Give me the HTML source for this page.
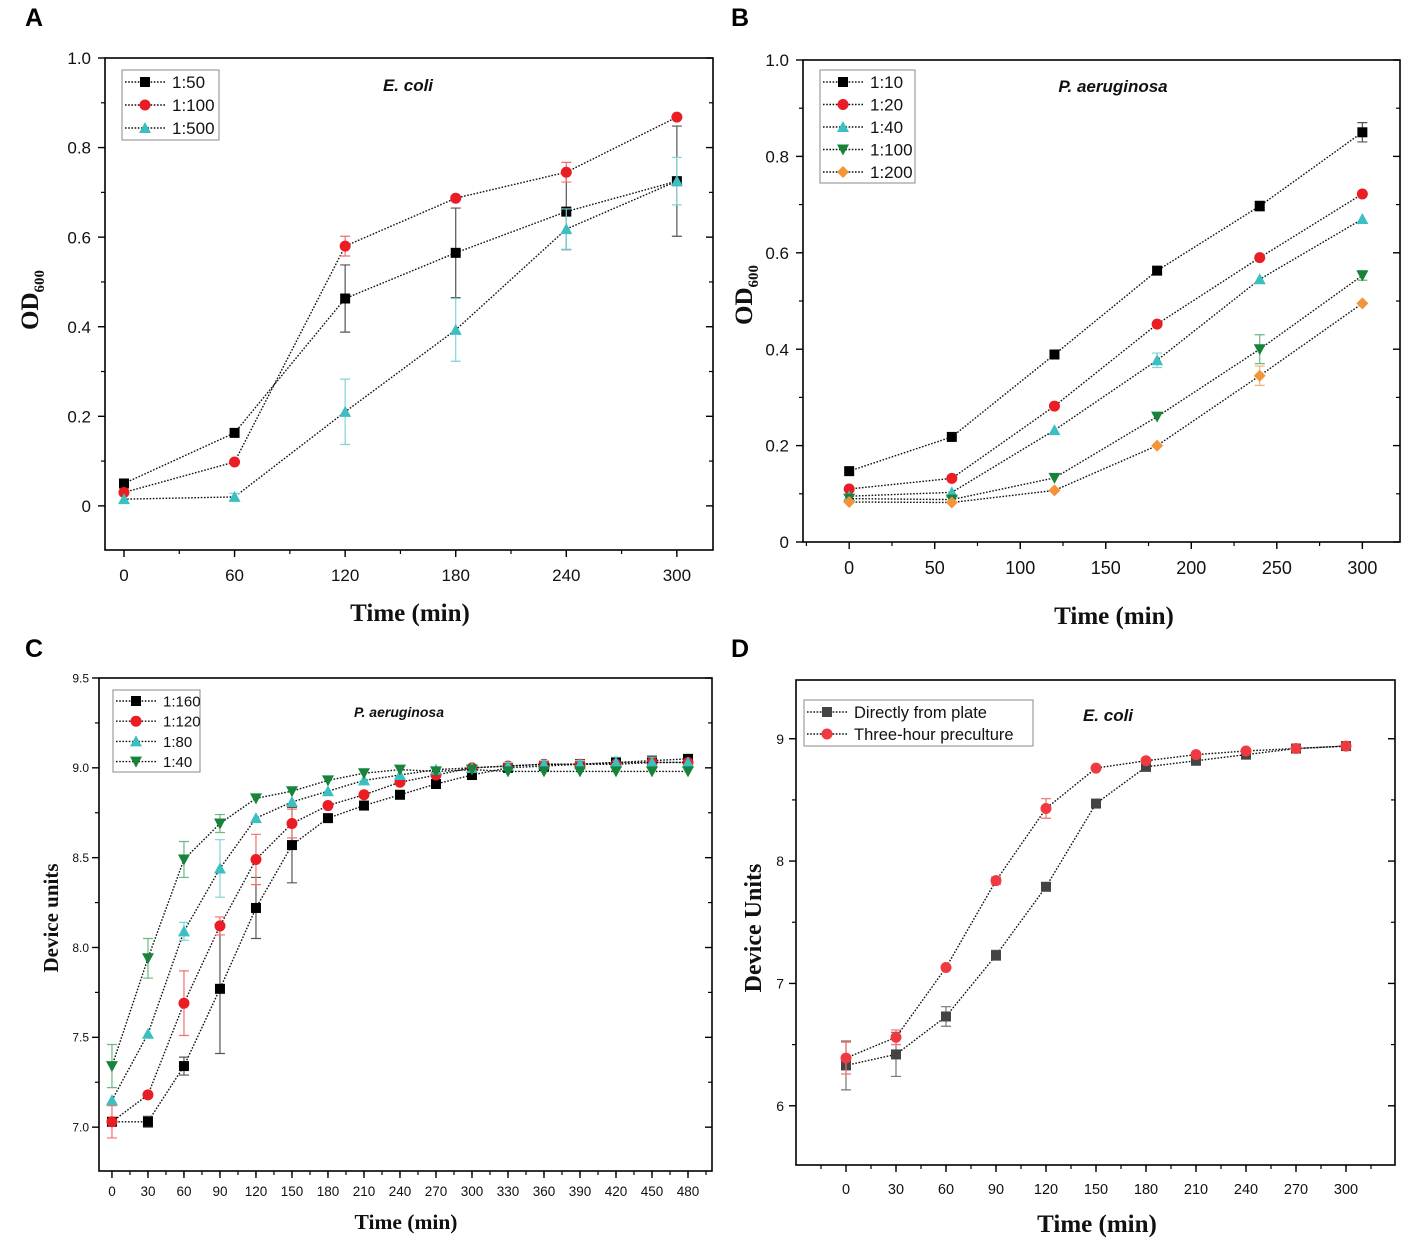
<!DOCTYPE html>
<html><head><meta charset="utf-8">
<style>
body{margin:0;background:#fff;}
svg{display:block;}
text{font-family:"Liberation Sans",Arial,sans-serif;}
.serif{font-family:"Liberation Serif","Times New Roman",serif;font-weight:bold;}
</style></head>
<body>
<svg id="fig" width="1417" height="1240" viewBox="0 0 1417 1240" xmlns="http://www.w3.org/2000/svg">
<rect width="1417" height="1240" fill="#fff"/>
</svg>
<script>
// ---------- Panel A data ----------
const aX = [0, 60, 120, 180, 240, 300];
const aNames = ["1:50", "1:100", "1:500"];
const a50 = [0.05, 0.163, 0.463, 0.565, 0.657, 0.725];
const a100 = [0.03, 0.098, 0.58, 0.687, 0.745, 0.868];
const a500 = [0.015, 0.02, 0.21, 0.393, 0.618, 0.725];
const a50Err = [0.005, 0.005, 0.075, 0.1, 0.085, 0.123];
const a100Err = [0.005, 0.005, 0.022, 0.005, 0.022, 0.005];
const a500Err = [0.005, 0.008, 0.073, 0.07, 0.045, 0.053];
const aXTicks = [0, 60, 120, 180, 240, 300];
const aYTicks = [0, 0.2, 0.4, 0.6, 0.8, 1.0];
const aYLabels = ["0", "0.2", "0.4", "0.6", "0.8", "1.0"];

// ---------- Panel B data ----------
const bX = [0, 60, 120, 180, 240, 300];
const bNames = ["1:10", "1:20", "1:40", "1:100", "1:200"];
const b10 = [0.147, 0.218, 0.389, 0.563, 0.697, 0.85];
const b20 = [0.11, 0.132, 0.282, 0.452, 0.59, 0.722];
const b40 = [0.095, 0.103, 0.232, 0.377, 0.545, 0.67];
const b100 = [0.09, 0.088, 0.133, 0.26, 0.4, 0.553];
const b200 = [0.083, 0.082, 0.107, 0.2, 0.345, 0.495];
const b10Err = [0.004, 0.004, 0.004, 0.004, 0.01, 0.02];
const b20Err = [0.004, 0.004, 0.004, 0.004, 0.004, 0.004];
const b40Err = [0.004, 0.004, 0.004, 0.015, 0.004, 0.004];
const b100Err = [0.004, 0.004, 0.004, 0.004, 0.03, 0.01];
const b200Err = [0.004, 0.004, 0.004, 0.004, 0.02, 0.004];
const bXTicks = [0, 50, 100, 150, 200, 250, 300];
const bYTicks = [0, 0.2, 0.4, 0.6, 0.8, 1.0];
const bYLabels = ["0", "0.2", "0.4", "0.6", "0.8", "1.0"];

// ---------- Panel C data ----------
const cX = [0, 30, 60, 90, 120, 150, 180, 210, 240, 270, 300, 330, 360, 390, 420, 450, 480];
const cNames = ["1:160", "1:120", "1:80", "1:40"];
const c160 = [7.03, 7.03, 7.34, 7.77, 8.22, 8.57, 8.72, 8.79, 8.85, 8.91, 8.96, 9.0, 9.01, 9.02, 9.03, 9.04, 9.05];
const c120 = [7.03, 7.18, 7.69, 8.12, 8.49, 8.69, 8.79, 8.85, 8.92, 8.96, 9.0, 9.01, 9.02, 9.02, 9.02, 9.03, 9.03];
const c80 = [7.15, 7.52, 8.09, 8.44, 8.72, 8.81, 8.87, 8.93, 8.96, 8.99, 9.0, 9.01, 9.02, 9.02, 9.03, 9.03, 9.03];
const c40 = [7.34, 7.94, 8.49, 8.69, 8.83, 8.87, 8.93, 8.97, 8.99, 8.98, 8.99, 8.98, 8.98, 8.98, 8.98, 8.98, 8.98];
const c160Err = [0.01, 0.03, 0.05, 0.36, 0.17, 0.21, 0.01, 0.01, 0.01, 0.01, 0.01, 0.01, 0.01, 0.01, 0.02, 0.02, 0.01];
const c120Err = [0.09, 0.01, 0.18, 0.05, 0.14, 0.08, 0.01, 0.01, 0.01, 0.01, 0.01, 0.01, 0.01, 0.01, 0.01, 0.01, 0.01];
const c80Err = [0.01, 0.01, 0.05, 0.16, 0.01, 0.01, 0.01, 0.01, 0.01, 0.01, 0.01, 0.02, 0.02, 0.02, 0.03, 0.03, 0.01];
const c40Err = [0.12, 0.11, 0.1, 0.05, 0.01, 0.01, 0.01, 0.01, 0.01, 0.01, 0.01, 0.01, 0.01, 0.01, 0.01, 0.01, 0.01];
const cXTicks = [0, 30, 60, 90, 120, 150, 180, 210, 240, 270, 300, 330, 360, 390, 420, 450, 480];
const cYTicks = [7.0, 7.5, 8.0, 8.5, 9.0, 9.5];
const cYLabels = ["7.0", "7.5", "8.0", "8.5", "9.0", "9.5"];

// ---------- Panel D data ----------
const dX = [0, 30, 60, 90, 120, 150, 180, 210, 240, 270, 300];
const dNames = ["Directly from plate", "Three-hour preculture"];
const dPlate = [6.33, 6.42, 6.73, 7.23, 7.79, 8.47, 8.77, 8.82, 8.87, 8.92, 8.94];
const dPre = [6.39, 6.56, 7.13, 7.84, 8.43, 8.76, 8.82, 8.87, 8.9, 8.92, 8.94];
const dPlateErr = [0.2, 0.18, 0.08, 0.04, 0.01, 0.01, 0.01, 0.01, 0.01, 0.01, 0.01];
const dPreErr = [0.13, 0.06, 0.02, 0.03, 0.08, 0.01, 0.01, 0.01, 0.01, 0.01, 0.01];
const dXTicks = [0, 30, 60, 90, 120, 150, 180, 210, 240, 270, 300];
const dYTicks = [6, 7, 8, 9];
const dYLabels = ["6", "7", "8", "9"];

const NS = "http://www.w3.org/2000/svg";
const fig = document.getElementById("fig");
function mk(tag, attrs, parent) {
  const e = document.createElementNS(NS, tag);
  for (const k in attrs) e.setAttribute(k, attrs[k]);
  (parent || fig).appendChild(e);
  return e;
}

function marker(g, shape, cx, cy, s, color) {
  let e;
  const h = s / 2;
  if (shape === "square") e = mk("rect", {x: cx - h, y: cy - h, width: s, height: s, fill: color}, g);
  else if (shape === "circle") e = mk("circle", {cx: cx, cy: cy, r: h + 0.5, fill: color}, g);
  else if (shape === "up") e = mk("polygon", {points: `${cx},${cy - h - 1} ${cx - h - 1},${cy + h} ${cx + h + 1},${cy + h}`, fill: color}, g);
  else if (shape === "down") e = mk("polygon", {points: `${cx},${cy + h + 1} ${cx - h - 1},${cy - h} ${cx + h + 1},${cy - h}`, fill: color}, g);
  else e = mk("polygon", {points: `${cx},${cy - h - 1} ${cx + h + 1},${cy} ${cx},${cy + h + 1} ${cx - h - 1},${cy}`, fill: color}, g);
  return e;
}

function panel(cfg) {
  const g = mk("g", {});
  
  
  const sx = v => cfg.L + (v - cfg.xmin) / (cfg.xmax - cfg.xmin) * (cfg.R - cfg.L);
  const sy = v => cfg.B - (v - cfg.ymin) / (cfg.ymax - cfg.ymin) * (cfg.B - cfg.T);
  const frame = mk("rect", {x: cfg.L, y: cfg.T, width: cfg.R - cfg.L, height: cfg.B - cfg.T, fill: "none", stroke: "#000", "stroke-width": 1.6}, g);
  
  
  const xt = mk("g", {}, g);
  
  
  for (const v of cfg.xTicks) {
    mk("line", {x1: sx(v), x2: sx(v), y1: cfg.B, y2: cfg.B + 7, stroke: "#000", "stroke-width": 1.4}, xt);
    const t = mk("text", {x: sx(v), y: cfg.B + cfg.xLabOff, "font-size": cfg.tickFont, "text-anchor": "middle", fill: "#111"}, xt);
    t.textContent = String(v);
  }
  for (let v = cfg.xTicks[0] - cfg.xMinor; v > cfg.xmin; v -= cfg.xMinor)
    mk("line", {x1: sx(v), x2: sx(v), y1: cfg.B, y2: cfg.B + 4, stroke: "#000", "stroke-width": 1.2}, xt);
  for (let v = cfg.xTicks[0] + cfg.xMinor; v < cfg.xmax; v += cfg.xMinor)
    mk("line", {x1: sx(v), x2: sx(v), y1: cfg.B, y2: cfg.B + 4, stroke: "#000", "stroke-width": 1.2}, xt);
  const yt = mk("g", {}, g);
  
  
  cfg.yTicks.forEach((v, i) => {
    mk("line", {x1: cfg.L - 7, x2: cfg.L, y1: sy(v), y2: sy(v), stroke: "#000", "stroke-width": 1.4}, yt);
    mk("line", {x1: cfg.R - 7, x2: cfg.R, y1: sy(v), y2: sy(v), stroke: "#000", "stroke-width": 1.4}, yt);
    const t = mk("text", {x: cfg.L - cfg.yLabOff, y: sy(v) + cfg.yTickFont * 0.36, "font-size": cfg.yTickFont, "text-anchor": "end", fill: "#111"}, yt);
    t.textContent = cfg.yLabels[i];
  });
  for (let v = cfg.yTicks[0] + cfg.yMinor; v < cfg.ymax - 1e-9; v += cfg.yMinor) {
    if (cfg.yTicks.some(t => Math.abs(t - v) < 1e-6)) continue;
    mk("line", {x1: cfg.L - 4, x2: cfg.L, y1: sy(v), y2: sy(v), stroke: "#000", "stroke-width": 1.2}, yt);
    mk("line", {x1: cfg.R - 4, x2: cfg.R, y1: sy(v), y2: sy(v), stroke: "#000", "stroke-width": 1.2}, yt);
  }
  for (let v = cfg.yTicks[0] - cfg.yMinor; v > cfg.ymin; v -= cfg.yMinor) {
    mk("line", {x1: cfg.L - 4, x2: cfg.L, y1: sy(v), y2: sy(v), stroke: "#000", "stroke-width": 1.2}, yt);
    mk("line", {x1: cfg.R - 4, x2: cfg.R, y1: sy(v), y2: sy(v), stroke: "#000", "stroke-width": 1.2}, yt);
  }
  cfg.series.forEach((s, si) => {
    const sg = mk("g", {}, g);
    
    
    const pts = cfg.x.map((xv, i) => sx(xv) + "," + sy(s.y[i])).join(" ");
    const ln = mk("polyline", {points: pts, fill: "none", stroke: "#111", "stroke-width": 1.4, "stroke-dasharray": "1.6 1.6"}, sg);
    
    
    cfg.x.forEach((xv, i) => {
      const e = s.err[i];
      if (e > 0.006 * (cfg.ymax - cfg.ymin)) {
        const eb = mk("path", {d: `M${sx(xv)},${sy(s.y[i] - e)}V${sy(s.y[i] + e)}M${sx(xv) - 5},${sy(s.y[i] - e)}h10M${sx(xv) - 5},${sy(s.y[i] + e)}h10`, stroke: s.errColor, "stroke-width": 1.2, fill: "none"}, sg);
        
        
      }
    });
    cfg.x.forEach((xv, i) => {
      const m = marker(sg, s.shape, sx(xv), sy(s.y[i]), cfg.ms, s.color);
      
      
    });
  });
  const lg = mk("g", {}, g);
  
  
  mk("rect", {x: cfg.leg.x, y: cfg.leg.y, width: cfg.leg.w, height: cfg.leg.h, fill: "#fff", stroke: "#888", "stroke-width": 1}, lg);
  cfg.series.forEach((s, si) => {
    const yy = cfg.leg.y + cfg.leg.first + si * cfg.leg.step;
    const le = mk("g", {}, lg);
    
    
    mk("line", {x1: cfg.leg.x + 3, x2: cfg.leg.x + 43, y1: yy, y2: yy, stroke: "#111", "stroke-width": 1.4, "stroke-dasharray": "1.6 1.6"}, le);
    marker(le, s.shape, cfg.leg.x + 23, yy, cfg.ms, s.color);
    const t = mk("text", {x: cfg.leg.x + 50, y: yy + cfg.leg.font * 0.36, "font-size": cfg.leg.font, fill: "#111"}, le);
    t.textContent = s.label;
  });
  const tt = mk("text", {x: cfg.title.x, y: cfg.title.y, "font-size": cfg.title.size, "font-weight": "bold", "font-style": "italic", "text-anchor": "middle", fill: "#111"}, g);
  
  
  tt.textContent = cfg.title.text;
  const xtl = mk("text", {x: cfg.xTitle.x, y: cfg.xTitle.y, "font-size": cfg.xTitle.size, "text-anchor": "middle", class: "serif", fill: "#111"}, g);
  
  
  xtl.textContent = "Time (min)";
  const ytl = mk("text", {x: 0, y: 0, "font-size": cfg.yTitle.size, "text-anchor": "middle", class: "serif", fill: "#111", transform: `translate(${cfg.yTitle.x},${cfg.yTitle.y}) rotate(-90)`}, g);
  
  
  if (cfg.yTitle.sub) {
    ytl.appendChild(document.createTextNode(cfg.yTitle.text));
    const ts = mk("tspan", {"font-size": cfg.yTitle.size * 0.6, dy: 6}, ytl);
    ts.textContent = cfg.yTitle.sub;
  } else ytl.textContent = cfg.yTitle.text;
  const pl = mk("text", {x: cfg.letter.x, y: cfg.letter.y, "font-size": 25, "font-weight": "bold", fill: "#000"}, g);
  
  
  pl.textContent = cfg.letter.t;
}

const RED = "#ea1c24", CYAN = "#3bbfc1", GREEN = "#17843a", ORANGE = "#f4943a";

panel({name: "panel-a-ecoli-od", L: 105, R: 713, T: 58, B: 550, xmin: -10.3, xmax: 319.6, ymin: -0.0985, ymax: 1.0,
  x: aX, xTicks: aXTicks, xMinor: 30, yTicks: aYTicks, yLabels: aYLabels, yMinor: 0.1, tickFont: 17, yTickFont: 17, xLabOff: 31, yLabOff: 14, ms: 10,
  series: [
    {label: aNames[0], y: a50, err: a50Err, shape: "square", color: "#000", errColor: "#555"},
    {label: aNames[1], y: a100, err: a100Err, shape: "circle", color: RED, errColor: "#f07070"},
    {label: aNames[2], y: a500, err: a500Err, shape: "up", color: CYAN, errColor: "#7fd5d5"}],
  leg: {x: 122, y: 70, w: 97, h: 70, first: 12, step: 23, font: 17},
  title: {x: 408, y: 91, size: 17, text: "E. coli"},
  xTitle: {x: 410, y: 621, size: 25}, yTitle: {x: 38, y: 300, size: 25, text: "OD", sub: "600"},
  letter: {x: 25, y: 26, t: "A"}});

panel({name: "panel-b-paeruginosa-od", L: 803, R: 1400, T: 60, B: 542, xmin: -27, xmax: 322, ymin: 0, ymax: 1.0,
  x: bX, xTicks: bXTicks, xMinor: 25, yTicks: bYTicks, yLabels: bYLabels, yMinor: 0.1, tickFont: 18, yTickFont: 17, xLabOff: 32, yLabOff: 14, ms: 10,
  series: [
    {label: bNames[0], y: b10, err: b10Err, shape: "square", color: "#000", errColor: "#555"},
    {label: bNames[1], y: b20, err: b20Err, shape: "circle", color: RED, errColor: "#f07070"},
    {label: bNames[2], y: b40, err: b40Err, shape: "up", color: CYAN, errColor: "#7fd5d5"},
    {label: bNames[3], y: b100, err: b100Err, shape: "down", color: GREEN, errColor: "#6cb882"},
    {label: bNames[4], y: b200, err: b200Err, shape: "diamond", color: ORANGE, errColor: "#f4b070"}],
  leg: {x: 820, y: 70, w: 95, h: 113, first: 12, step: 22.5, font: 17},
  title: {x: 1113, y: 92, size: 17, text: "P. aeruginosa"},
  xTitle: {x: 1114, y: 624, size: 25}, yTitle: {x: 752, y: 295, size: 25, text: "OD", sub: "600"},
  letter: {x: 731, y: 26, t: "B"}});

panel({name: "panel-c-paeruginosa-device", L: 99, R: 712, T: 678, B: 1171, xmin: -10.8, xmax: 500, ymin: 6.756, ymax: 9.5,
  x: cX, xTicks: cXTicks, xMinor: 15, yTicks: cYTicks, yLabels: cYLabels, yMinor: 0.25, tickFont: 13.5, yTickFont: 12, xLabOff: 25, yLabOff: 10, ms: 10,
  series: [
    {label: cNames[0], y: c160, err: c160Err, shape: "square", color: "#000", errColor: "#555"},
    {label: cNames[1], y: c120, err: c120Err, shape: "circle", color: RED, errColor: "#f07070"},
    {label: cNames[2], y: c80, err: c80Err, shape: "up", color: CYAN, errColor: "#7fd5d5"},
    {label: cNames[3], y: c40, err: c40Err, shape: "down", color: GREEN, errColor: "#6cb882"}],
  leg: {x: 113, y: 690, w: 87, h: 82, first: 11, step: 20.2, font: 15},
  title: {x: 399, y: 717, size: 14, text: "P. aeruginosa"},
  xTitle: {x: 406, y: 1229, size: 21.5}, yTitle: {x: 58, y: 918, size: 21, text: "Device units"},
  letter: {x: 25, y: 657, t: "C"}});

panel({name: "panel-d-ecoli-device", L: 796, R: 1395, T: 680, B: 1165, xmin: -30, xmax: 329.4, ymin: 5.516, ymax: 9.48,
  x: dX, xTicks: dXTicks, xMinor: 15, yTicks: dYTicks, yLabels: dYLabels, yMinor: 0.5, tickFont: 14.5, yTickFont: 14, xLabOff: 29, yLabOff: 12, ms: 10,
  series: [
    {label: dNames[0], y: dPlate, err: dPlateErr, shape: "square", color: "#444", errColor: "#777"},
    {label: dNames[1], y: dPre, err: dPreErr, shape: "circle", color: "#ee3a40", errColor: "#f07070"}],
  leg: {x: 804, y: 700, w: 229, h: 46, first: 12, step: 22, font: 16.5},
  title: {x: 1108, y: 721, size: 17, text: "E. coli"},
  xTitle: {x: 1097, y: 1232, size: 25}, yTitle: {x: 761, y: 928, size: 24, text: "Device Units"},
  letter: {x: 731, y: 657, t: "D"}});
</script>
</body></html>
